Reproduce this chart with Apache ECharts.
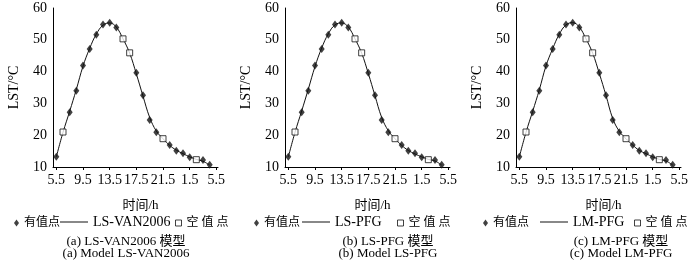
<!DOCTYPE html>
<html>
<head>
<meta charset="utf-8">
<script src="https://cdn.jsdelivr.net/npm/echarts@6/dist/echarts.min.js"></script>
<style>
    html, body { margin: 0; padding: 0; background: #fff; }
    #chart { width: 700px; height: 269px; }
</style>
</head>
<body>
<div id="chart"></div>
<script>
    // 观测时刻（5.5 点到次日 4.5 点，超过 24 的按次日计）
    const hours = [5.5, 6.5, 7.5, 8.5, 9.5, 10.5, 11.5, 12.5, 13.5, 14.5, 15.5, 16.5,
        17.5, 18.5, 19.5, 20.5, 21.5, 22.5, 23.5, 24.5, 25.5, 26.5, 27.5, 28.5];
    // 有值点，空值处为 null
    const observed = [13.2, null, 27.2, 34.0, 41.9, 47.1, 51.6, 54.8, 55.4, 53.9, null, null,
        39.6, 32.6, 24.8, 20.9, null, 16.9, 15.1, 14.3, 13.1, null, 12.2, 10.7];
    // 空值点
    const gapHours = [6.5, 15.5, 16.5, 21.5, 26.5];
    const gapValues = [21.0, 50.3, 45.9, 18.9, 12.3];
    // 三个模型的拟合曲线
    const modelA = [13.2, 20.9, 27.5, 34.4, 41.7, 47.3, 51.8, 54.6, 55.3, 54.0, 50.3, 45.8,
        39.3, 32.3, 25.6, 21.3, 18.9, 16.8, 15.3, 14.2, 13.2, 12.4, 11.8, 10.6];
    const modelB = [13.2, 20.9, 27.6, 34.5, 41.6, 47.4, 51.9, 54.7, 55.3, 54.0, 50.3, 45.8,
        39.4, 32.4, 25.6, 21.4, 18.9, 16.8, 15.2, 14.1, 13.2, 12.4, 11.9, 10.6];
    const modelC = [13.2, 20.9, 27.5, 34.3, 41.8, 47.2, 51.8, 54.7, 55.4, 54.0, 50.3, 45.8,
        39.4, 32.5, 25.3, 21.2, 18.9, 16.9, 15.2, 14.2, 13.2, 12.4, 11.9, 10.6];
    const modelNames = ['LS-VAN2006', 'LS-PFG', 'LM-PFG'];
    const modelValues = [modelA, modelB, modelC];
    const panelTags = ['(a)', '(b)', '(c)'];
    // x 轴刻度
    const xTickValues = [5.5, 9.5, 13.5, 17.5, 21.5, 25.5, 29.5];
    const xTickLabels = ['5.5', '9.5', '13.5', '17.5', '21.5', '1.5', '5.5'];

    const FONT = '"Liberation Serif", "Noto Sans CJK SC", serif';
    const gridLeft = [53, 285, 516];
    const legendLeft = [[14, 60, 175], [254, 302, 397], [483, 540, 634]];
    const captionX = [126, 388, 621];

    let chart = echarts.init(document.getElementById('chart'));

    let grid = [], xAxis = [], yAxis = [], series = [], legend = [], title = [];

    gridLeft.forEach((left, i) => {
        grid.push({left: left, top: 8, width: 165, height: 159});
        xAxis.push({
            type: 'value', gridIndex: i, min: 5, max: 29.75,
            name: '时间/h', nameLocation: 'middle', nameGap: 32,
            nameTextStyle: {color: '#000', fontSize: 13, fontFamily: FONT, padding: [0, 0, 0, 10]},
            axisLine: {show: true, onZero: false, lineStyle: {color: '#000', width: 1}},
            axisTick: {show: true, length: 3, customValues: xTickValues, lineStyle: {color: '#000'}},
            axisLabel: {
                color: '#000', fontSize: 14, fontFamily: FONT, margin: 6,
                customValues: xTickValues,
                formatter: v => xTickLabels[xTickValues.indexOf(v)]
            },
            splitLine: {show: false}
        });
        yAxis.push({
            type: 'value', gridIndex: i, min: 10, max: 60, interval: 10,
            name: 'LST/°C', nameLocation: 'middle', nameGap: 32, nameRotate: 90,
            nameTextStyle: {color: '#000', fontSize: 14, fontFamily: FONT},
            axisLine: {show: true, lineStyle: {color: '#000', width: 1}},
            axisTick: {show: false},
            axisLabel: {color: '#000', fontSize: 14, fontFamily: FONT, margin: 6},
            splitLine: {show: false}
        });

        series.push({
            name: modelNames[i], type: 'line', xAxisIndex: i, yAxisIndex: i,
            data: hours.map((h, k) => [h, modelValues[i][k]]),
            smooth: 0.4, symbol: 'none', z: 2,
            lineStyle: {color: '#111', width: 1}, itemStyle: {color: '#111'}
        });
        series.push({
            name: '有值点', type: 'scatter', xAxisIndex: i, yAxisIndex: i,
            data: hours.map((h, k) => [h, observed[k]]).filter(d => d[1] !== null),
            symbol: 'diamond', symbolSize: [6, 8], z: 3,
            itemStyle: {color: '#111'}
        });
        series.push({
            name: '空值点', type: 'scatter', xAxisIndex: i, yAxisIndex: i,
            data: gapHours.map((h, k) => [h, gapValues[k]]),
            symbol: 'rect', symbolSize: 6, z: 4,
            itemStyle: {color: '#fff', borderColor: '#111', borderWidth: 1}
        });

        const cjkText = {color: '#000', fontSize: 12, fontFamily: FONT};
        legend.push({
            data: ['有值点'], left: legendLeft[i][0], top: 217, padding: 0,
            itemWidth: 5, itemHeight: 7, itemGap: 0, textStyle: cjkText,
            selectedMode: false
        });
        legend.push({
            data: [{name: modelNames[i], icon: 'rect', itemStyle: {color: '#111'}}],
            left: legendLeft[i][1], top: 215, padding: 0,
            itemWidth: 28, itemHeight: 1,
            textStyle: {color: '#000', fontSize: 14, fontFamily: FONT},
            selectedMode: false
        });
        legend.push({
            data: [{name: '空值点', icon: 'rect',
                itemStyle: {color: '#fff', borderColor: '#111', borderWidth: 1}}],
            left: legendLeft[i][2], top: 217, padding: 0,
            itemWidth: 6, itemHeight: 6, textStyle: cjkText,
            formatter: () => '空 值 点', selectedMode: false
        });

        title.push({
            text: panelTags[i] + ' ' + modelNames[i] + ' 模型',
            subtext: panelTags[i] + ' Model ' + modelNames[i],
            left: captionX[i], top: 235, textAlign: 'center', padding: 0, itemGap: 0,
            textStyle: {color: '#000', fontSize: 13, fontWeight: 'normal', fontFamily: FONT, lineHeight: 13},
            subtextStyle: {color: '#000', fontSize: 13, fontFamily: FONT, lineHeight: 12}
        });
    });

    chart.setOption({
        animation: false,
        backgroundColor: '#fff',
        title: title,
        legend: legend,
        grid: grid,
        xAxis: xAxis,
        yAxis: yAxis,
        series: series
    });
</script>
</body>
</html>
